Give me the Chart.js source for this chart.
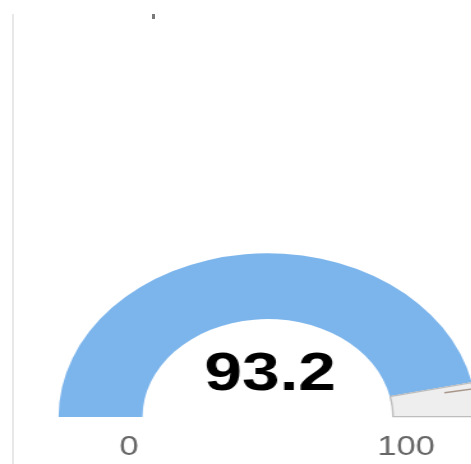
<!DOCTYPE html>
<html>
<head>
<meta charset="utf-8">
<script src="https://cdn.jsdelivr.net/npm/chart.js@4.4.1/dist/chart.umd.min.js"></script>
<style>
  html, body { margin: 0; padding: 0; background: #fff; overflow: hidden; }
  body { width: 471px; height: 464px; position: relative; }
  .frame { position: absolute; left: 12px; top: 14px; width: 2px; height: 450px; background: #e8e8e8; }
  .dot { position: absolute; left: 152px; top: 14px; width: 3px; height: 5px; background: #7a7a7a; }
  .wrap { position: absolute; left: 0; top: 0; transform: scaleX(1.277); transform-origin: 0 0; }
</style>
</head>
<body>
<div class="frame"></div>
<div class="dot"></div>
<div class="wrap">
  <canvas id="gauge" width="419" height="464"></canvas>
</div>
<script>
// gauge data
const gaugeMin = 0
const gaugeMax = 100
const gaugeValue = 93.2
const markerValues = [94.5]
const axisLabels = ['0', '100']

const gaugeText = {
  id: 'gaugeText',
  afterDraw(chart) {
    const arc = chart.getDatasetMeta(0).data[0]
    if (!arc) return
    const { x, y, innerRadius, outerRadius } = arc.getProps(['x', 'y', 'innerRadius', 'outerRadius'], true)
    const ctx = chart.ctx
    ctx.save()

    // marker line
    markerValues.forEach((v) => {
      const a = Math.PI + Math.PI * (v - gaugeMin) / (gaugeMax - gaugeMin)
      ctx.strokeStyle = '#a8968a'
      ctx.lineWidth = 1.5
      ctx.beginPath()
      ctx.moveTo(x + Math.cos(a) * (innerRadius + 43), y + Math.sin(a) * (innerRadius + 43))
      ctx.lineTo(x + Math.cos(a) * (outerRadius + 20), y + Math.sin(a) * (outerRadius + 20))
      ctx.stroke()
    })

    ctx.textAlign = 'center'
    ctx.textBaseline = 'alphabetic'
    ctx.fillStyle = '#000'
    ctx.font = 'bold 53px "Liberation Sans", Arial, sans-serif'
    ctx.fillText(gaugeValue.toFixed(1), x + 2, y - 27)

    ctx.fillStyle = '#666'
    ctx.font = '27px "Liberation Sans", Arial, sans-serif'
    ctx.fillText(axisLabels[0], x - innerRadius - 11, y + 38)
    ctx.fillText(axisLabels[1], x + innerRadius + 11, y + 38)
    ctx.restore()
  },
}

new Chart(document.getElementById('gauge'), {
  type: 'doughnut',
  data: {
    labels: ['value', 'rest'],
    datasets: [
      {
        data: [gaugeValue - gaugeMin, gaugeMax - gaugeValue],
        backgroundColor: ['#7cb5ec', '#eeeeee'],
        borderColor: ['#7cb5ec', '#bdbdbd'],
        borderWidth: [0, 1],
        borderAlign: 'inner',
      },
    ],
  },
  options: {
    responsive: false,
    animation: false,
    rotation: -90,
    circumference: 180,
    radius: 164,
    cutout: '59.5%',
    layout: { padding: { top: 206, left: 0, right: 0, bottom: 0 } },
    plugins: {
      legend: { display: false },
      tooltip: { enabled: false },
    },
  },
  plugins: [gaugeText],
})
</script>
</body>
</html>
